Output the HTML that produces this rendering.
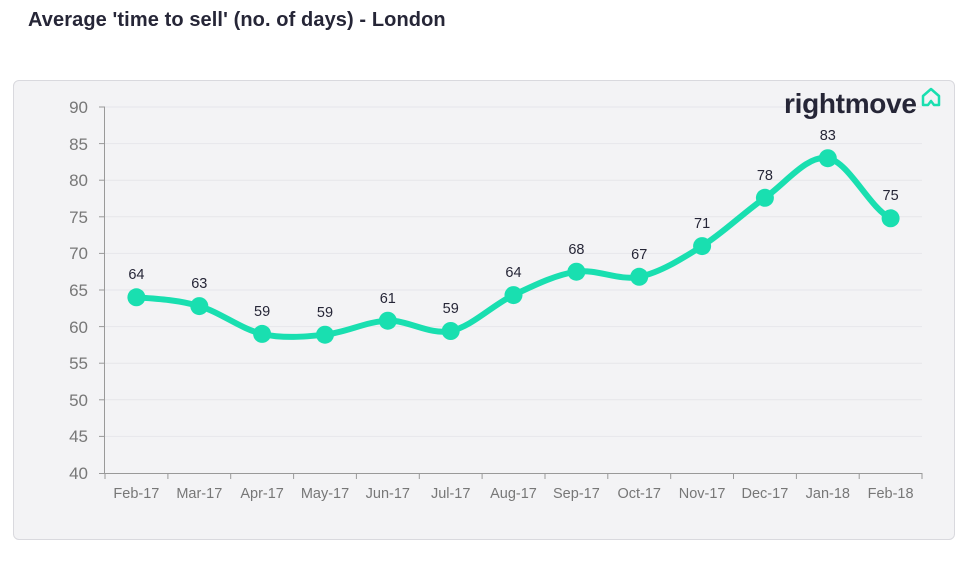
<!DOCTYPE html>
<html><head><meta charset="utf-8"><style>
body{margin:0;background:#fff;width:980px;height:585px;overflow:hidden;font-family:"Liberation Sans",sans-serif}
.t{position:absolute;left:28px;top:9px;font-size:20px;font-weight:bold;color:#262637;letter-spacing:0.1px}
.box{position:absolute;left:13px;top:80px;width:940px;height:458px;border:1px solid #d9d9de;border-radius:6px;background:#f3f3f5}
</style></head><body>
<div class="t">Average 'time to sell' (no. of days) - London</div>
<div class="box"></div>
<svg width="980" height="585" style="position:absolute;left:0;top:0" font-family="Liberation Sans, sans-serif">
<g stroke="#e6e6ea" stroke-width="1">
<line x1="105" x2="922" y1="107" y2="107"/><line x1="105" x2="922" y1="143.6" y2="143.6"/><line x1="105" x2="922" y1="180.2" y2="180.2"/><line x1="105" x2="922" y1="216.8" y2="216.8"/><line x1="105" x2="922" y1="253.4" y2="253.4"/><line x1="105" x2="922" y1="290" y2="290"/><line x1="105" x2="922" y1="326.6" y2="326.6"/><line x1="105" x2="922" y1="363.2" y2="363.2"/><line x1="105" x2="922" y1="399.8" y2="399.8"/><line x1="105" x2="922" y1="436.4" y2="436.4"/>
</g>
<g stroke="#999" stroke-width="1">
<line x1="104.5" x2="104.5" y1="107" y2="473"/><line x1="99" x2="922" y1="473.5" y2="473.5"/>
<line x1="99" x2="105" y1="107" y2="107"/><line x1="99" x2="105" y1="143.6" y2="143.6"/><line x1="99" x2="105" y1="180.2" y2="180.2"/><line x1="99" x2="105" y1="216.8" y2="216.8"/><line x1="99" x2="105" y1="253.4" y2="253.4"/><line x1="99" x2="105" y1="290" y2="290"/><line x1="99" x2="105" y1="326.6" y2="326.6"/><line x1="99" x2="105" y1="363.2" y2="363.2"/><line x1="99" x2="105" y1="399.8" y2="399.8"/><line x1="99" x2="105" y1="436.4" y2="436.4"/>
<line x1="105" x2="105" y1="473" y2="479"/><line x1="167.9" x2="167.9" y1="473" y2="479"/><line x1="230.7" x2="230.7" y1="473" y2="479"/><line x1="293.6" x2="293.6" y1="473" y2="479"/><line x1="356.4" x2="356.4" y1="473" y2="479"/><line x1="419.3" x2="419.3" y1="473" y2="479"/><line x1="482.1" x2="482.1" y1="473" y2="479"/><line x1="545" x2="545" y1="473" y2="479"/><line x1="607.8" x2="607.8" y1="473" y2="479"/><line x1="670.7" x2="670.7" y1="473" y2="479"/><line x1="733.5" x2="733.5" y1="473" y2="479"/><line x1="796.4" x2="796.4" y1="473" y2="479"/><line x1="859.2" x2="859.2" y1="473" y2="479"/><line x1="922" x2="922" y1="473" y2="479"/>
</g>
<g fill="#777" font-size="17" text-anchor="end">
<text x="88" y="113">90</text><text x="88" y="150">85</text><text x="88" y="186">80</text><text x="88" y="223">75</text><text x="88" y="259">70</text><text x="88" y="296">65</text><text x="88" y="333">60</text><text x="88" y="369">55</text><text x="88" y="406">50</text><text x="88" y="442">45</text><text x="88" y="479">40</text>
</g>
<g fill="#777" font-size="14.5" text-anchor="middle">
<text x="136.4" y="498">Feb-17</text><text x="199.3" y="498">Mar-17</text><text x="262.1" y="498">Apr-17</text><text x="325" y="498">May-17</text><text x="387.8" y="498">Jun-17</text><text x="450.7" y="498">Jul-17</text><text x="513.5" y="498">Aug-17</text><text x="576.4" y="498">Sep-17</text><text x="639.2" y="498">Oct-17</text><text x="702.1" y="498">Nov-17</text><text x="764.9" y="498">Dec-17</text><text x="827.8" y="498">Jan-18</text><text x="890.6" y="498">Feb-18</text>
</g>
<path fill="none" stroke="#19dfb0" stroke-width="6" stroke-linecap="round" d="M136.4 297.3 C157.35 298.77 178.35 300.0 199.3 306.1 C220.25 312.2 241.15 329.13 262.1 333.9 C283.05 338.67 304.05 336.9 325.0 334.7 C345.95 332.5 366.85 321.32 387.8 320.7 C408.75 320.08 429.75 335.27 450.7 331.0 C471.65 326.73 492.55 304.98 513.5 295.1 C534.45 285.22 555.45 274.75 576.4 271.7 C597.35 268.65 618.25 281.07 639.2 276.8 C660.15 272.53 681.15 259.27 702.1 246.1 C723.05 232.93 743.95 212.45 764.9 197.8 C785.85 183.15 806.85 154.78 827.8 158.2 C848.75 161.62 869.65 208.3 890.6 218.3"/>
<g fill="#19dfb0">
<circle cx="136.4" cy="297.3" r="9"/><circle cx="199.3" cy="306.1" r="9"/><circle cx="262.1" cy="333.9" r="9"/><circle cx="325" cy="334.7" r="9"/><circle cx="387.8" cy="320.7" r="9"/><circle cx="450.7" cy="331" r="9"/><circle cx="513.5" cy="295.1" r="9"/><circle cx="576.4" cy="271.7" r="9"/><circle cx="639.2" cy="276.8" r="9"/><circle cx="702.1" cy="246.1" r="9"/><circle cx="764.9" cy="197.8" r="9"/><circle cx="827.8" cy="158.2" r="9"/><circle cx="890.6" cy="218.3" r="9"/>
</g>
<g fill="#262637" font-size="14.5" text-anchor="middle">
<text x="136.4" y="279">64</text><text x="199.3" y="288">63</text><text x="262.1" y="316">59</text><text x="325" y="317">59</text><text x="387.8" y="303">61</text><text x="450.7" y="313">59</text><text x="513.5" y="277">64</text><text x="576.4" y="254">68</text><text x="639.2" y="259">67</text><text x="702.1" y="228">71</text><text x="764.9" y="180">78</text><text x="827.8" y="140">83</text><text x="890.6" y="200">75</text>
</g>
<text x="784" y="113" font-size="28" font-weight="bold" fill="#262637" letter-spacing="-0.3">rightmove</text>
<path d="M923 105 V96 L931 89 L939 96 V105 H934 L931 101 L928 105 Z" fill="none" stroke="#19dfb0" stroke-width="2.5" stroke-linejoin="round"/>
</svg>
</body></html>
